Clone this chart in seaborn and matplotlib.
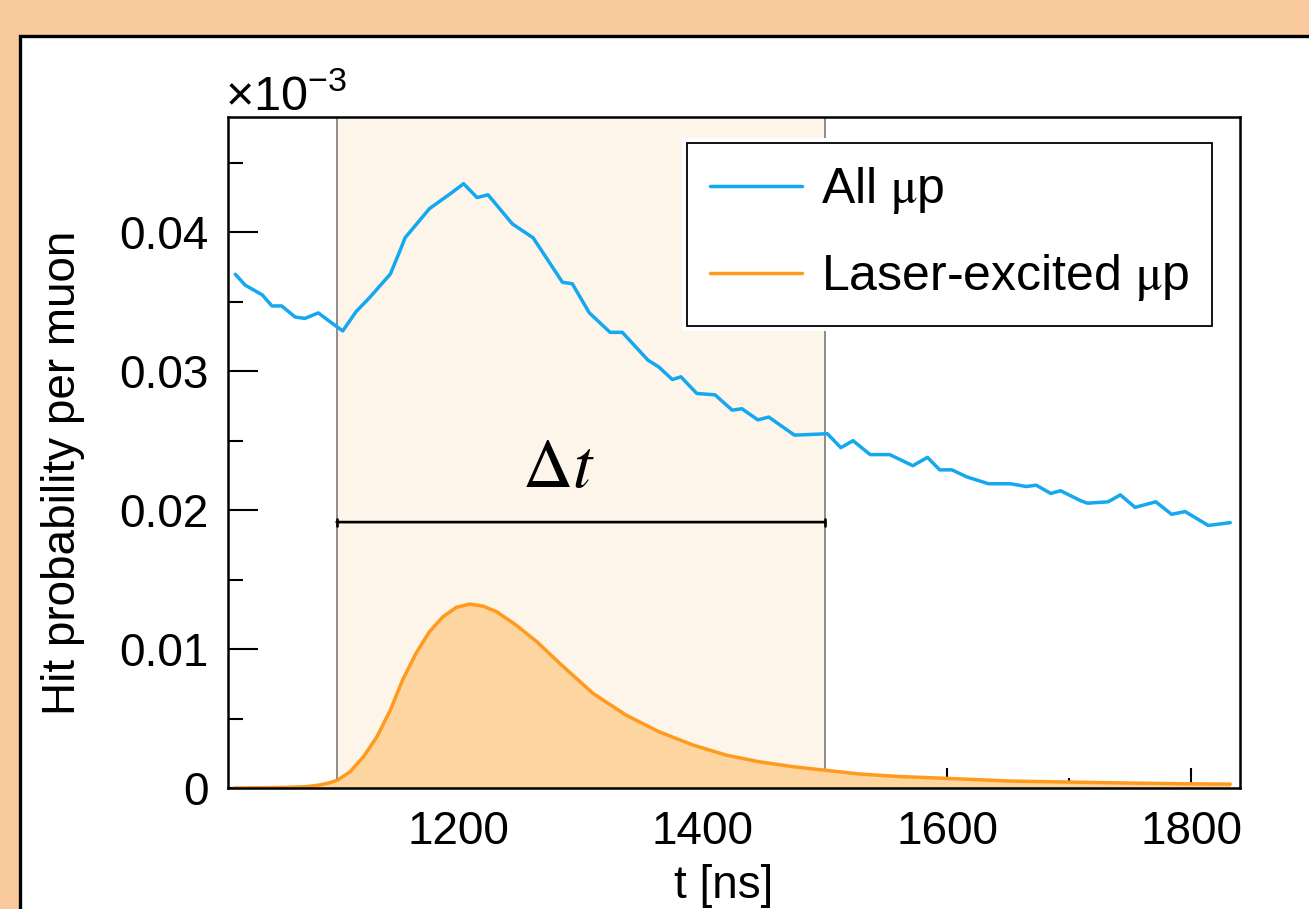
import numpy as np
import matplotlib
matplotlib.use("Agg")
import matplotlib.pyplot as plt
from matplotlib.patches import Rectangle
from matplotlib.ticker import FixedLocator, FixedFormatter, MultipleLocator
import seaborn as sns

# ---- data ----
t_all = [1017, 1025, 1033, 1039, 1047, 1055, 1066, 1074, 1085, 1094, 1105, 1116, 1127, 1144,
         1152, 1156, 1176, 1195, 1204, 1215, 1224, 1244, 1261, 1285, 1293, 1307, 1324, 1334,
         1355, 1364, 1375, 1382, 1395, 1410, 1424, 1432, 1445, 1454, 1475, 1502, 1513, 1523,
         1537, 1553, 1572, 1584, 1594, 1604, 1616, 1634, 1652, 1665, 1673, 1685, 1693, 1709,
         1715, 1732, 1742, 1754, 1771, 1784, 1795, 1814, 1832]
v_all = [0.03698, 0.0362, 0.0358, 0.0355, 0.0347, 0.0347, 0.0339, 0.0338, 0.0342, 0.0336,
         0.0329, 0.0343, 0.0353, 0.0370, 0.0387, 0.0396, 0.0417, 0.0429, 0.0435, 0.0425,
         0.0427, 0.0406, 0.0396, 0.0364, 0.0363, 0.0342, 0.0328, 0.0328, 0.0308, 0.0303,
         0.0294, 0.0296, 0.0284, 0.0283, 0.0272, 0.0273, 0.0265, 0.0267, 0.0254, 0.0255,
         0.0245, 0.0250, 0.0240, 0.0240, 0.0232, 0.0238, 0.0229, 0.0229, 0.0224, 0.0219,
         0.0219, 0.0217, 0.0218, 0.0212, 0.0214, 0.0207, 0.0205, 0.0206, 0.0211, 0.0202,
         0.0206, 0.0197, 0.0199, 0.0189, 0.0191]

t_laser = [1016, 1040, 1060, 1075, 1085, 1094.5, 1101, 1111, 1122, 1133, 1144, 1154, 1165,
           1176, 1187, 1198, 1209, 1220, 1231, 1247, 1264, 1283, 1310, 1337, 1364, 1392,
           1419, 1446, 1474, 1498, 1528, 1560, 1598, 1652, 1698, 1747, 1798, 1832]
v_laser = [0.0, 0.00002, 0.00005, 0.0001, 0.0002, 0.00038, 0.00058, 0.00117, 0.00225,
           0.00369, 0.00561, 0.00777, 0.00969, 0.01125, 0.01232, 0.0130, 0.01324, 0.01309,
           0.01269, 0.01173, 0.01053, 0.00895, 0.00681, 0.00525, 0.00405, 0.00309, 0.00237,
           0.00189, 0.00153, 0.0013, 0.00101, 0.00083, 0.0007, 0.0005, 0.00043, 0.00036,
           0.0003, 0.00028]

window = [1100, 1500]
bar_y = 0.01914
x_major = [1200, 1400, 1600, 1800]
x_labels = ["1200", "1400", "1600", "1800"]
y_major = [0, 0.01, 0.02, 0.03, 0.04]
y_labels = ["0", "0.01", "0.02", "0.03", "0.04"]
series_names = [r"All $\mathrm{\mu}$p", r"Laser-excited $\mathrm{\mu}$p"]

# ---- style ----
sns.set_style("ticks")
plt.rcParams["font.family"] = ["Liberation Sans", "DejaVu Sans"]
plt.rcParams["mathtext.fontset"] = "stix"
plt.rcParams["text.color"] = "black"
plt.rcParams["axes.labelcolor"] = "black"
plt.rcParams["xtick.color"] = "black"
plt.rcParams["ytick.color"] = "black"

BG = "#F9CA9B"
BAND = "#FDF4EA"
BLUE = "#14A8F0"
ORANGE = "#FF9A1C"
FILL = "#FDD5A0"

fig = plt.figure(figsize=(13.09, 9.09), dpi=100)
fig.patch.set_facecolor(BG)
W, H = 1309, 909
panel = Rectangle((20 / W, -0.2), 1.2, 1.2 - 36 / H, transform=fig.transFigure,
                  facecolor="white", edgecolor="black", lw=2.4, zorder=-10)
fig.patches.append(panel)

ax = fig.add_axes([228 / W, 1 - 788 / H, (1240 - 228) / W, (788 - 117) / H])
ax.set_facecolor("none")

ax.axvspan(window[0], window[1], color=BAND, zorder=0.5, lw=0)
for xv in window:
    ax.axvline(xv, color="#707070", lw=1.1, zorder=0.6)

ax.fill_between(t_laser, v_laser, 0, color=FILL, lw=0, zorder=1)
sns.lineplot(x=t_all, y=v_all, ax=ax, color=BLUE, lw=2.5, label=series_names[0],
             estimator=None, errorbar=None, zorder=3)
sns.lineplot(x=t_laser, y=v_laser, ax=ax, color=ORANGE, lw=2.5, label=series_names[1],
             estimator=None, errorbar=None, zorder=2)
for ln in ax.get_lines():
    ln.set_solid_joinstyle("round")
    ln.set_solid_capstyle("round")

ax.annotate("", xy=(window[0], bar_y), xytext=(window[1], bar_y),
            arrowprops=dict(arrowstyle="|-|,widthA=0.25,widthB=0.25", lw=1.9, color="black",
                            shrinkA=0, shrinkB=0), zorder=4)
ax.text(1282, 0.02166, r"$\Delta t$", fontsize=50, ha="center", va="baseline", zorder=4)

ax.set_xlim(1011, 1840)
ax.set_ylim(0, 0.0483)

ax.xaxis.set_major_locator(FixedLocator(x_major))
ax.xaxis.set_major_formatter(FixedFormatter(x_labels))
ax.xaxis.set_minor_locator(MultipleLocator(100))
ax.yaxis.set_major_locator(FixedLocator(y_major))
ax.yaxis.set_major_formatter(FixedFormatter(y_labels))
ax.yaxis.set_minor_locator(MultipleLocator(0.005))

ax.tick_params(axis="both", which="both", direction="in", colors="black", width=1.5,
               labelsize=33, top=False, right=False)
ax.tick_params(axis="y", which="major", length=21.5, pad=14)
ax.tick_params(axis="y", which="minor", length=10.8)
ax.tick_params(axis="x", which="major", length=14.4, pad=16)
ax.tick_params(axis="x", which="minor", length=7.2)
for s in ax.spines.values():
    s.set_visible(True)
    s.set_linewidth(1.8)
    s.set_color("black")
    s.set_zorder(6)

ax.set_xlabel("t [ns]", fontsize=33)
ax.set_ylabel("Hit probability per muon", fontsize=33)
ax.xaxis.set_label_coords(0.49, -0.114)
ax.yaxis.set_label_coords(-0.141, 0.469)

ax.text(-0.003, 1.01, r"$\mathregular{\times10^{-3}}$", transform=ax.transAxes, fontsize=35,
        ha="left", va="baseline")

leg = ax.legend(loc="upper right", bbox_to_anchor=(0.9723, 0.9613), borderaxespad=0,
                fontsize=36, frameon=True, fancybox=False, framealpha=1, edgecolor="black",
                handlelength=1.85, handletextpad=0.38, borderpad=0.45, labelspacing=0.72)
leg.get_frame().set_linewidth(1.3)
leg.set_zorder(5)
for line in leg.get_lines():
    line.set_linewidth(2.5)
for txt in leg.get_texts():
    txt.set_color("black")

fig.canvas.draw()
bb = leg.get_frame().get_window_extent()
inv = fig.transFigure.inverted()
(x0, y0), (x1, y1) = inv.transform([[bb.x0 - 5, bb.y0 - 5], [bb.x1 + 5, bb.y1 + 5]])
ax.add_patch(Rectangle((x0, y0), x1 - x0, y1 - y0, transform=fig.transFigure,
                       facecolor="white", edgecolor="none", zorder=4.5, clip_on=False))

fig.savefig("out.png", dpi=100, facecolor=fig.get_facecolor())
